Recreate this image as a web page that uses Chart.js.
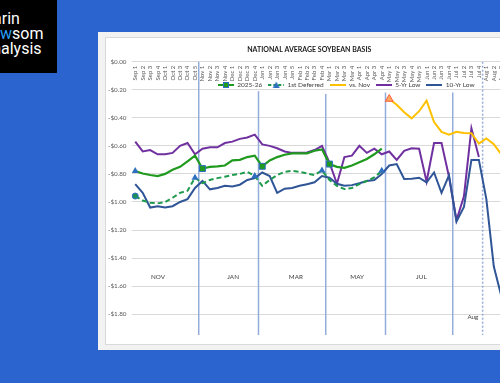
<!DOCTYPE html>
<html><head><meta charset="utf-8">
<script src="https://cdn.jsdelivr.net/npm/chart.js@4.4.1/dist/chart.umd.min.js"></script>
<style>
html,body{margin:0;padding:0;width:500px;height:383px;overflow:hidden;background:#2b63cf;}
#logo{position:absolute;left:0;top:0;width:57px;height:73px;background:#000;overflow:hidden;}
#logo div{position:absolute;left:0;font-family:Roboto,sans-serif;font-size:16px;color:#fff;white-space:nowrap;line-height:16px;}
#logo .b{color:#2a9df4;}
#panel{position:absolute;left:98px;top:32px;width:420px;height:318px;background:#f2f2f2;}
#box{position:absolute;left:105px;top:37px;width:420px;height:306px;background:#fff;border:1px solid #d9d9d9;}
canvas{display:block;}
</style></head>
<body>
<div id="logo">
  <div style="top:11px" data-x="1.7"><span class="h">Da</span>rin</div>
  <div style="top:26px" data-x="0"><span class="h b">Ne</span><span class="b">w</span>som</div>
  <div style="top:41px" data-x="1"><span class="h">An</span>alysis</div>
</div>
<div id="panel"></div>
<div id="box"><canvas id="c" width="420" height="306"></canvas></div>
<script>
// ---------- data ----------
const weeks = ['Sep 1','Sep 2','Sep 3','Sep 4','Oct 1','Oct 2','Oct 3','Oct 4','Oct 5',
  'Nov 1','Nov 2','Nov 3','Nov 4','Dec 1','Dec 2','Dec 3','Dec 4',
  'Jan 1','Jan 2','Jan 3','Jan 4','Jan 5','Feb 1','Feb 2','Feb 3','Feb 4',
  'Mar 1','Mar 2','Mar 3','Mar 4','Apr 1','Apr 2','Apr 3','Apr 4',
  'May 1','May 2','May 3','May 4','May 5','Jun 1','Jun 2','Jun 3','Jun 4',
  'Jul 1','Jul 2','Jul 3','Jul 4','Aug 1','Aug 2','Aug 3','Aug 4'];
const yTicks = [0,-0.2,-0.4,-0.6,-0.8,-1.0,-1.2,-1.4,-1.6,-1.8];
const season2526 = [-0.78,-0.797,-0.808,-0.815,-0.80,-0.77,-0.75,-0.71,-0.67,
  -0.762,-0.75,-0.746,-0.74,-0.704,-0.70,-0.68,-0.67,
  -0.746,-0.704,-0.68,-0.663,-0.653,-0.653,-0.653,-0.635,-0.625,
  -0.73,-0.75,-0.757,-0.74,-0.716,-0.693,-0.66,-0.62];
const firstDeferred = [-0.958,-0.99,-1.005,-1.01,-1.00,-0.97,-0.935,-0.92,-0.827,
  -0.866,-0.843,-0.83,-0.82,-0.808,-0.80,-0.785,-0.815,
  -0.885,-0.843,-0.808,-0.785,-0.778,-0.785,-0.797,-0.808,-0.775,
  -0.843,-0.885,-0.908,-0.90,-0.873,-0.85,-0.825,-0.778];
const vsNov = [null,null,null,null,null,null,null,null,null,null,null,null,null,null,null,null,null,
  null,null,null,null,null,null,null,null,null,null,null,null,null,null,null,null,null,
  -0.266,-0.307,-0.36,-0.404,-0.353,-0.277,-0.43,-0.50,-0.52,
  -0.50,-0.508,-0.51,-0.584,-0.547,-0.589,-0.66,-0.70];
const fiveYrLow = [-0.57,-0.64,-0.63,-0.66,-0.66,-0.65,-0.60,-0.58,-0.66,
  -0.62,-0.61,-0.61,-0.58,-0.57,-0.55,-0.54,-0.52,
  -0.59,-0.60,-0.617,-0.64,-0.65,-0.65,-0.647,-0.63,-0.60,
  -0.72,-0.87,-0.68,-0.67,-0.60,-0.65,-0.62,-0.66,
  -0.64,-0.70,-0.635,-0.617,-0.62,-0.855,-0.58,-0.58,-0.82,
  -1.13,-0.96,-0.475,-0.68,null,null,null,null];
const tenYrLow = [-0.873,-0.935,-1.04,-1.03,-1.04,-1.03,-1.00,-0.98,-0.90,
  -0.85,-0.91,-0.90,-0.885,-0.89,-0.877,-0.843,-0.83,
  -0.79,-0.815,-0.935,-0.905,-0.90,-0.885,-0.873,-0.86,-0.815,
  -0.827,-0.87,-0.885,-0.88,-0.866,-0.85,-0.843,-0.80,
  -0.74,-0.73,-0.836,-0.835,-0.827,-0.86,-0.79,-0.935,-0.81,
  -1.14,-1.035,-0.70,-0.70,-0.98,-1.46,-1.67,-1.80];
const contractLabels = ['NOV','JAN','MAR','MAY','JUL'];
const augLabel = ['Aug'];
const seriesNames = ['2025-26','1st Deferred','vs. Nov','5-Yr Low','10-Yr Low'];
// markers (week index) and roll lines (between weeks)
const marks2526 = [0, 9, 17, 26];
const marksDeferred = [0, 8, 16, 25, 33];
const marksNov = [34];
const rollLines = [[8.5, 0], [16.5, -0.21], [25.5, -0.23], [33.5, -0.22], [42.5, -0.22]];
const augLine = [46.5, 0];

// ---------- logo crop ----------
document.querySelectorAll('#logo div').forEach(d => {
  const h = d.querySelector('.h');
  d.style.left = (parseFloat(d.dataset.x) - h.getBoundingClientRect().width) + 'px';
});

// ---------- styling ----------
const FONT = 'Lato, "Liberation Sans", sans-serif';
const GREEN = '#1f9a1f', GREEN2 = '#1e9a4c', BLUE_M = '#2e6fc0', ORANGE = '#ffc000',
      PURPLE = '#7030a0', NAVY = '#2f5597', VLINE = '#93acdc';
const Y_MIN = -1.95;
const N = weeks.length;

function icon(color, dash, marker) {
  const c = document.createElement('canvas');
  c.width = 16; c.height = 8;
  const g = c.getContext('2d');
  g.strokeStyle = color; g.lineWidth = 2; g.setLineDash(dash || []);
  g.beginPath(); g.moveTo(0, 4); g.lineTo(16, 4); g.stroke();
  g.setLineDash([]);
  if (marker === 'rect') {
    g.fillStyle = GREEN; g.fillRect(5, 1, 6, 6);
    g.strokeStyle = BLUE_M; g.lineWidth = 1; g.strokeRect(5.5, 1.5, 5, 5);
  } else if (marker === 'tri') {
    g.fillStyle = BLUE_M; g.beginPath(); g.moveTo(8, 0.5); g.lineTo(11.5, 7); g.lineTo(4.5, 7); g.closePath(); g.fill();
  }
  return c;
}
const icons = [icon(GREEN, null, 'rect'), icon(GREEN2, [3, 2], 'tri'), icon(ORANGE), icon(PURPLE), icon(NAVY)];

const LEG_X = 112, LEG_Y = 47, LEG_PAD = 6, LEG_FS = 6.5;
const legendMover = {
  id: 'legendMover',
  afterLayout(chart) {
    const lg = chart.legend;
    lg.left = LEG_X - LEG_PAD; lg.right = chart.width; lg.width = lg.right - lg.left;
    lg.top = LEG_Y - LEG_PAD - LEG_FS / 2; lg.bottom = lg.top + 20; lg.height = 20;
  }
};

const lineDs = (x, top, dash) => ({
  type: 'line', data: [{x: x, y: top}, {x: x, y: Y_MIN}], borderColor: VLINE,
  borderWidth: 1.5, borderDash: dash || [], pointRadius: 0, order: 20
});

const datasets = [
  { label: seriesNames[0], data: season2526, borderColor: GREEN, borderWidth: 2.2, order: 1,
    pointStyle: c => c.dataIndex === 0 ? 'triangle' : 'rect',
    pointRadius: c => marks2526.includes(c.dataIndex) ? (c.dataIndex === 0 ? 4 : 4.2) : 0,
    pointBackgroundColor: c => c.dataIndex === 0 ? BLUE_M : GREEN,
    pointBorderColor: BLUE_M, pointBorderWidth: c => c.dataIndex === 0 ? 0 : 1 },
  { label: seriesNames[1], data: firstDeferred, borderColor: GREEN2, borderWidth: 2, borderDash: [5, 3], order: 2,
    pointStyle: c => c.dataIndex === 0 ? 'circle' : 'triangle',
    pointRadius: c => marksDeferred.includes(c.dataIndex) ? (c.dataIndex === 0 ? 3 : 4) : 0,
    pointBackgroundColor: c => c.dataIndex === 0 ? '#1d8f5a' : BLUE_M,
    pointBorderColor: BLUE_M, pointBorderWidth: c => c.dataIndex === 0 ? 1 : 0 },
  { label: seriesNames[2], data: vsNov, borderColor: ORANGE, borderWidth: 2, order: 4,
    pointStyle: 'triangle', pointRadius: c => marksNov.includes(c.dataIndex) ? 4.5 : 0,
    pointBackgroundColor: '#ffa860', pointBorderColor: '#ff5a3c', pointBorderWidth: 1 },
  { label: seriesNames[3], data: fiveYrLow, borderColor: PURPLE, borderWidth: 2, order: 5, pointRadius: 0 },
  { label: seriesNames[4], data: tenYrLow, borderColor: NAVY, borderWidth: 2, order: 3, pointRadius: 0 },
  ...rollLines.map(r => lineDs(r[0], r[1])),
  lineDs(augLine[0], augLine[1], [2, 2])
];
datasets.forEach(d => { d.tension = 0; d.spanGaps = false; d.fill = false; });

const hideAxis = { display: false, drawTicks: false };
new Chart(document.getElementById('c'), {
  type: 'line',
  data: { labels: weeks.map((_, i) => i), datasets },
  plugins: [legendMover],
  options: {
    responsive: false, animation: false, devicePixelRatio: 1,
    layout: { padding: { left: 0, top: 0, right: 13.5, bottom: 0 } },
    plugins: {
      tooltip: { enabled: false },
      title: { display: true, text: 'NATIONAL AVERAGE SOYBEAN BASIS', color: '#1a1a1a',
        font: { family: FONT, size: 7, weight: 'bold' }, padding: { top: 7.6, bottom: 6.7 } },
      legend: {
        position: 'top', align: 'start', maxHeight: 1,
        labels: {
          usePointStyle: true, pointStyleWidth: 16, boxHeight: 6, padding: LEG_PAD,
          color: '#404040', font: { family: FONT, size: LEG_FS },
          filter: it => it.datasetIndex < 5,
          sort: (a, b) => a.datasetIndex - b.datasetIndex,
          generateLabels: chart => Chart.defaults.plugins.legend.labels.generateLabels(chart)
            .map(it => Object.assign(it, { pointStyle: icons[it.datasetIndex] || 'line' }))
        }
      }
    },
    scales: {
      y: {
        min: Y_MIN, max: 0,
        afterBuildTicks: s => { s.ticks = yTicks.map(v => ({ value: v })); },
        afterFit: s => { s.width = 25.5; },
        ticks: { padding: 5, color: '#595959', font: { family: FONT, size: 6.3 },
          callback: v => (v < 0 ? '-$' : '$') + Math.abs(v).toFixed(2) },
        grid: { color: '#d9d9d9', lineWidth: 1, drawTicks: false },
        border: { display: false }
      },
      x: {
        type: 'linear', min: -0.5, max: N - 0.5, position: { y: 0 },
        afterBuildTicks: s => { s.ticks = weeks.map((_, i) => ({ value: i })); },
        afterFit: s => { s.height = 0; },
        ticks: { autoSkip: false, minRotation: 90, maxRotation: 90, padding: 4,
          color: '#595959', font: { family: FONT, size: 6 }, callback: v => weeks[v] },
        grid: hideAxis, border: { display: false }
      },
      xMonth: {
        type: 'linear', axis: 'x', min: -0.5, max: N - 0.5, position: { y: -1.505 },
        afterBuildTicks: s => { s.ticks = [3.05, 13.1, 21.5, 29.7, 38.3].map(v => ({ value: v })); },
        afterFit: s => { s.height = 0; },
        ticks: { autoSkip: false, maxRotation: 0, padding: 0, color: '#404040',
          font: { family: FONT, size: 6.3 }, callback: (v, i) => contractLabels[i] },
        grid: hideAxis, border: { display: false }
      },
      xAug: {
        type: 'linear', axis: 'x', min: -0.5, max: N - 0.5, position: { y: -1.79 },
        afterBuildTicks: s => { s.ticks = [45.2].map(v => ({ value: v })); },
        afterFit: s => { s.height = 0; },
        ticks: { autoSkip: false, maxRotation: 0, padding: 0, color: '#404040',
          font: { family: FONT, size: 6.3 }, callback: (v, i) => augLabel[i] },
        grid: hideAxis, border: { display: false }
      }
    }
  }
});
</script>
</body></html>
